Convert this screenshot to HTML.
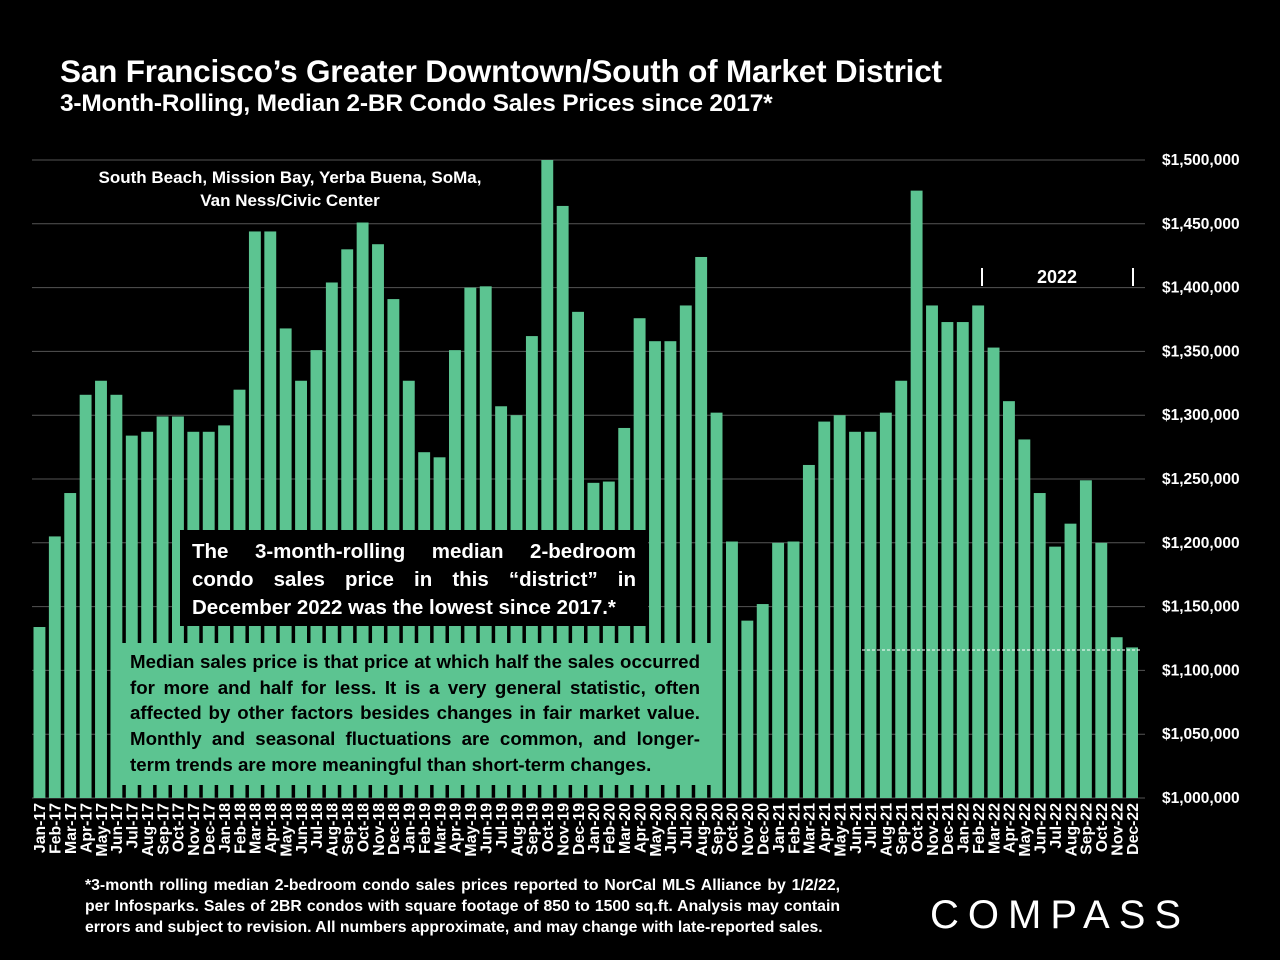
<!DOCTYPE html>
<html><head><meta charset="utf-8"><style>
body{margin:0;background:#000;width:1280px;height:960px;overflow:hidden;font-family:"Liberation Sans",sans-serif;color:#fff}
svg{position:absolute;left:0;top:0}
.t{position:absolute;font-weight:bold}
</style></head><body>
<div class="t" style="left:60px;top:53px;font-size:31.5px;letter-spacing:-0.2px">San Francisco’s Greater Downtown/South of Market District</div>
<div class="t" style="left:60px;top:90px;font-size:24.5px;letter-spacing:-0.2px">3-Month-Rolling, Median 2-BR Condo Sales Prices since 2017*</div>
<svg id="c" width="1280" height="960"></svg>
<div class="t" style="left:80px;top:166px;width:420px;text-align:center;font-size:17px;line-height:23px">South Beach, Mission Bay, Yerba Buena, SoMa,<br>Van Ness/Civic Center</div>
<div class="t" style="left:180px;top:530px;width:444px;height:74px;padding:8px 12px 14px;background:#000;font-size:20.5px;line-height:28px;text-align:justify;text-align-last:left">The 3-month-rolling median 2-bedroom condo sales price in this “district” in December 2022 was the lowest since 2017.*</div>
<div class="t" style="left:118px;top:643px;width:570px;height:130px;padding:6px 12px;background:#5cc491;color:#000;font-size:18.7px;line-height:25.7px;text-align:justify;text-align-last:left">Median sales price is that price at which half the sales occurred for more and half for less. It is a very general statistic, often affected by other factors besides changes in fair market value. Monthly and seasonal fluctuations are common, and longer-term trends are more meaningful than short-term changes.</div>
<div class="t" style="left:85px;top:875px;width:755px;font-size:15.8px;line-height:21px;text-align:justify;text-align-last:left">*3-month rolling median 2-bedroom condo sales prices reported to NorCal MLS Alliance by 1/2/22, per Infosparks. Sales of 2BR condos with square footage of 850 to 1500 sq.ft. Analysis may contain errors and subject to revision. All numbers approximate, and may change with late-reported sales.</div>
<div class="t" style="left:930px;top:893px;font-size:40px;font-weight:normal;letter-spacing:9px">COMPASS</div>
<script>
const months=["Jan","Feb","Mar","Apr","May","Jun","Jul","Aug","Sep","Oct","Nov","Dec"];
const years=["17","18","19","20","21","22"];
const categories=[];years.forEach(y=>months.forEach(m=>categories.push(m+"-"+y)));
const values=[1134,1205,1239,1316,1327,1316,1284,1287,1299,1299,1287,1287,
1292,1320,1444,1444,1368,1327,1351,1404,1430,1451,1434,1391,
1327,1271,1267,1351,1400,1401,1307,1300,1362,1500,1464,1381,
1247,1248,1290,1376,1358,1358,1386,1424,1302,1201,1139,1152,
1200,1201,1261,1295,1300,1287,1287,1302,1327,1476,1386,1373,
1373,1386,1353,1311,1281,1239,1197,1215,1249,1200,1126,1118];
const yTicks=[1000,1050,1100,1150,1200,1250,1300,1350,1400,1450,1500];
const NS="http://www.w3.org/2000/svg",svg=document.getElementById("c");
const x0=32,x1=1140,pitch=(x1-x0)/categories.length;
const yS=v=>798-(v-1000)*1.276;
const xS=i=>x0+i*pitch;
function mk(t,a){const e=document.createElementNS(NS,t);for(const k in a)e.setAttribute(k,a[k]);svg.appendChild(e);return e;}
yTicks.forEach(v=>{
 const l=mk("line",{x1:x0,x2:1145,y1:yS(v),y2:yS(v),stroke:"#555","stroke-width":1});
 
 
 const t=mk("text",{x:1162,y:yS(v)+5,fill:"#fff","font-size":15.5,"font-weight":"bold","font-family":"Liberation Sans"});
 t.textContent="$"+(v*1000).toLocaleString("en-US");
 
 
});
values.forEach((v,i)=>{
 const r=mk("rect",{x:xS(i)+1.5,y:yS(v),width:pitch-3.5,height:798-yS(v),fill:"#5cc491"});
 
 
 const cx=xS(i)+pitch/2+5.5;
 const t=mk("text",{x:0,y:0,fill:"#fff","font-size":15.8,"font-weight":"bold","font-family":"Liberation Sans","text-anchor":"end",transform:`translate(${cx},803) rotate(-90)`});
 t.textContent=categories[i];
 
 
});
const d=mk("line",{x1:862,x2:1140,y1:650,y2:650,stroke:"#fff","stroke-dasharray":"3,2","stroke-width":1});


[982,1133].forEach(x=>{const l=mk("line",{x1:x,x2:x,y1:268,y2:286,stroke:"#fff","stroke-width":2});
 
 });
const yl=mk("text",{x:1057,y:283,fill:"#fff","font-size":18,"font-weight":"bold","text-anchor":"middle","font-family":"Liberation Sans"});
yl.textContent="2022";


</script>
</body></html>
